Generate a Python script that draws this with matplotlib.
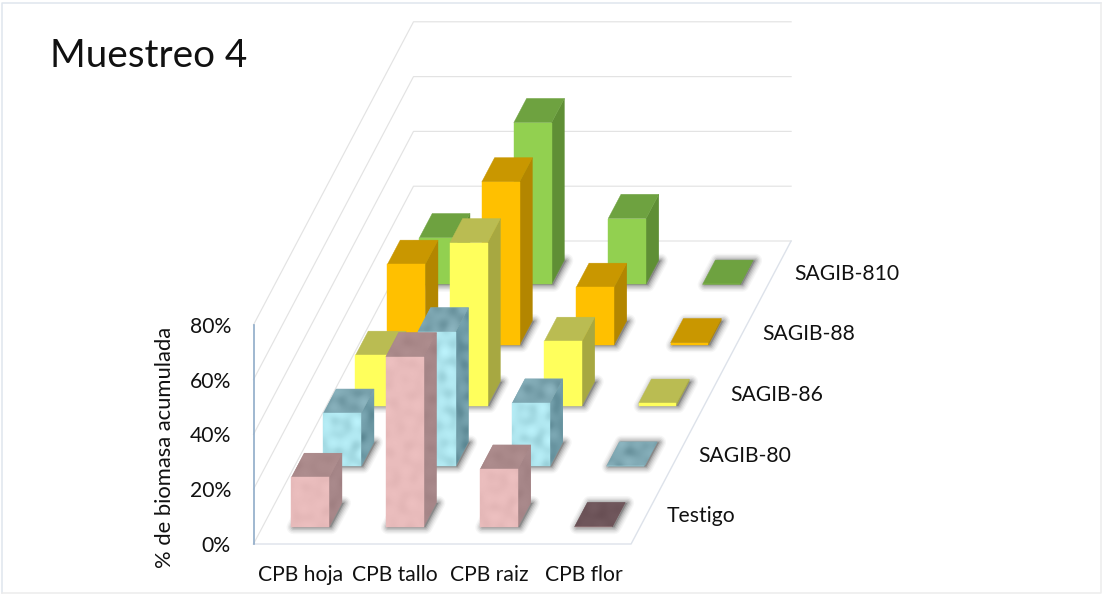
#!/usr/bin/env python3
"""Muestreo 4: % de biomasa acumulada por organo y tratamiento, barras 3D oblicuas."""
import numpy as np
import matplotlib
matplotlib.use("Agg")
import matplotlib.pyplot as plt
from matplotlib.colors import LinearSegmentedColormap
from matplotlib.patches import Polygon

categories = ["CPB hoja", "CPB tallo", "CPB raiz", "CPB flor"]
series_names = ["Testigo", "SAGIB-80", "SAGIB-86", "SAGIB-88", "SAGIB-810"]
testigo = [18.0, 62.0, 21.0, 0.0]
sagib_80 = [19.3, 49.0, 23.0, 0.0]
sagib_86 = [18.3, 59.4, 23.4, 0.8]
sagib_88 = [29.4, 59.5, 21.0, 0.8]
sagib_810 = [17.0, 59.0, 24.0, 0.0]
y_ticks = [0, 20, 40, 60, 80]

# front, top, side; textured series get a light/dark pair per face
colors = {
    "Testigo": ("#e9bcbc", "#ab8a8b", "#a68688"),
    "SAGIB-80": ("#afe6ef", "#7fa8b3", "#6f9ba7"),
    "SAGIB-86": ("#ffff5c", "#babc52", "#a7a841"),
    "SAGIB-88": ("#ffc000", "#c99700", "#b38600"),
    "SAGIB-810": ("#92d050", "#6ea240", "#5f8f35"),
}
textured = {"Testigo": 0.025, "SAGIB-80": 0.08}
FLAT_TESTIGO = "#6f565b"

# oblique projection of the plot box, in figure pixels
ORIGIN = np.array([253.5, 544.0])
CAT_STEP = 94.4
DEPTH_STEP = np.array([32.0, -60.6])
PX_PER_PCT = 2.74
GAP = 0.3
BAR_DY = 0.9
TXT = 15.2


def proj(c, d, v=0.0):
    p = ORIGIN + np.array([c * CAT_STEP, 0.0]) + d * DEPTH_STEP
    return p[0], p[1] - v * PX_PER_PCT


def mottle(w, h, seed):
    """Smooth deterministic surface pattern in 0..1."""
    yy, xx = np.mgrid[0:h, 0:w]
    z = np.zeros((h, w))
    for k, (a, b) in enumerate([(0.16, 0.08), (0.06, 0.19), (0.24, 0.14), (0.11, 0.27)]):
        z += np.sin(a * xx + b * yy + seed * (k + 1)) * np.cos(b * xx - a * yy + seed)
    return (z - z.min()) / (z.max() - z.min())


def face(ax, pts, color, name, z):
    pts = [(x, y + BAR_DY) for x, y in pts]
    ax.add_patch(Polygon(pts, closed=True, fc=color, ec=color, lw=0.3, zorder=z))
    if name not in textured:
        return
    xs, ys = zip(*pts)
    x0, x1, y0, y1 = min(xs), max(xs), min(ys), max(ys)
    w, h = max(int(x1 - x0) + 2, 2), max(int(y1 - y0) + 2, 2)
    amt = textured[name]
    rgb = np.array(matplotlib.colors.to_rgb(color))
    cmap = LinearSegmentedColormap.from_list(
        "t", [np.clip(rgb - amt, 0, 1), rgb, np.clip(rgb + amt * 0.6, 0, 1)])
    im = ax.imshow(mottle(w, h, x0 * 0.07 + y0 * 0.03), cmap=cmap, vmin=0, vmax=1,
                   extent=(x0, x1, y1, y0), aspect="auto", interpolation="bilinear", zorder=z)
    im.set_clip_path(Polygon(pts, closed=True, transform=ax.transData))


def bar(ax, c, d, v, name, z):
    c0, c1, d0, d1 = c + GAP, c + 1 - GAP, d + GAP, d + 1 - GAP
    front, top, side = colors[name]
    foot = [proj(c0, d0), proj(c1, d0), proj(c1, d1), proj(c0, d1)]
    # soft shadow on the floor: widening translucent outlines
    shadow = [(x + 2.0, y + BAR_DY + 0.5) for x, y in foot]
    for lw, a in [(10, 0.06), (8, 0.09), (6, 0.13), (4, 0.20), (2, 0.28)]:
        ax.add_patch(Polygon(shadow, closed=True, fc="#707070", ec="#707070",
                             lw=lw, alpha=a, joinstyle="round", zorder=z))
    if v == 0 and name == "Testigo":
        top = FLAT_TESTIGO
    face(ax, [proj(c1, d0), proj(c1, d1), proj(c1, d1, v), proj(c1, d0, v)], side, name, z + 0.1)
    face(ax, [proj(c0, d0, v), proj(c1, d0, v), proj(c1, d1, v), proj(c0, d1, v)], top, name, z + 0.2)
    face(ax, [proj(c0, d0), proj(c1, d0), proj(c1, d0, v), proj(c0, d0, v)], front, name, z + 0.3)


plt.rcParams["font.family"] = ["Lato", "DejaVu Sans"]
fig = plt.figure(figsize=(11.02, 5.94), dpi=100)
ax = fig.add_axes([0, 0, 1, 1])
ax.set_xlim(0, 1102)
ax.set_ylim(594, 0)
ax.axis("off")

# outer chart frame
ax.plot([2, 2, 1101], [593, 2.5, 2.5], color="#dfe6ee", lw=1.1, zorder=0)
ax.plot([2, 1101, 1101], [593, 593, 2.5], color="#ececec", lw=1.1, zorder=0)

n_cat, n_ser = len(categories), len(series_names)
GRID = "#e3e3e3"
for t in y_ticks:
    xs, ys = zip(proj(0, 0, t), proj(0, n_ser, t), proj(n_cat, n_ser, t))
    ax.plot(xs, ys, color=GRID, lw=0.85, zorder=1)
    ax.text(231, proj(0, 0, t)[1] + 2, f"{t}%", ha="right", va="center", fontsize=TXT, color="#111111")
# floor outline and value axis
xs, ys = zip(proj(0, 0), proj(n_cat, 0), proj(n_cat, n_ser))
ax.plot(xs, ys, color="#dde2ea", lw=1.0, zorder=1)
xs, ys = zip(proj(0, 0), proj(0, 0, 80))
ax.plot(xs, ys, color="#8fabc8", lw=1.2, zorder=1)

data = [testigo, sagib_80, sagib_86, sagib_88, sagib_810]
for d in range(n_ser - 1, -1, -1):
    z = 10 + (n_ser - d) * 10
    for c in range(n_cat):
        bar(ax, c, d, data[d][c], series_names[d], z + c)

for c, label in enumerate(categories):
    ax.text(proj(c + 0.5, 0)[0], 575, label, ha="center", va="center", fontsize=TXT, color="#111111")
for d, label in enumerate(series_names):
    x, y = proj(n_cat, d + 0.5)
    ax.text(x + 19.5, y + 2.5, label, ha="left", va="center", fontsize=TXT, color="#111111")

ax.text(165, 447, "% de biomasa acumulada", rotation=90, ha="center", va="center",
        fontsize=15.8, color="#111111")
ax.text(50, 56, "Muestreo 4", ha="left", va="center", fontsize=27.8, color="#111111")

fig.savefig("out.png", dpi=100)
